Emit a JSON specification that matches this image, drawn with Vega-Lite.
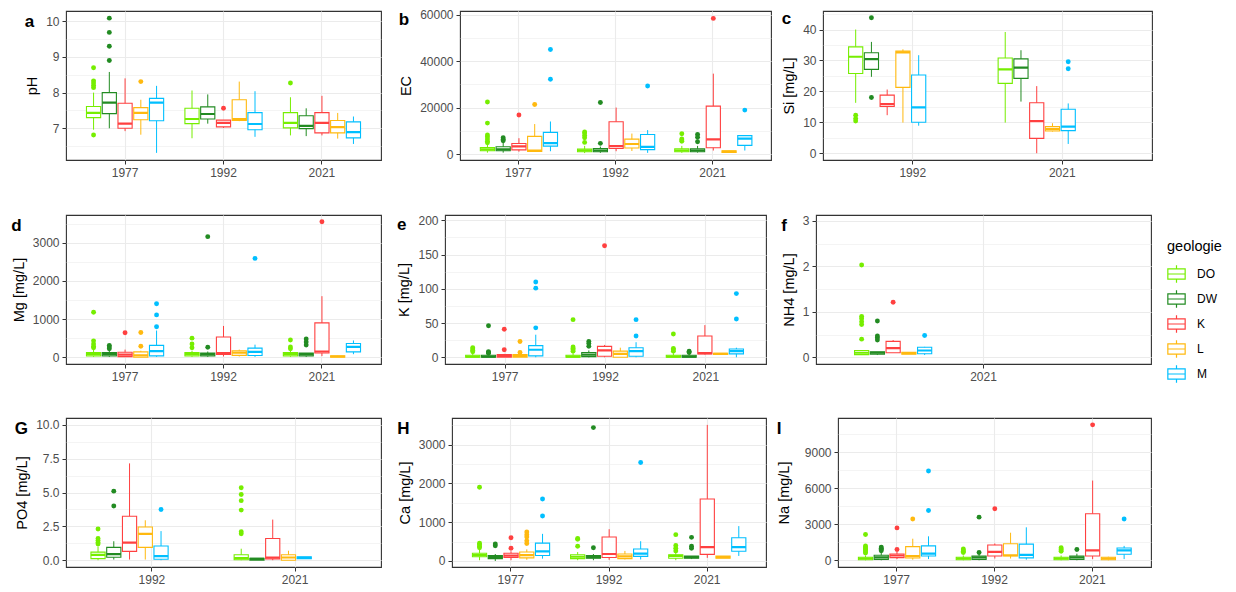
{
"$schema": "https://vega.github.io/schema/vega-lite/v6.json",
"padding": {"left": 10, "top": 7, "right": 0, "bottom": 0},
"background": "white",
"datasets": {
"boxes": [
{"var":"pH","year":"1977","geo":"DO","lo":6.96,"q1":7.30,"med":7.43,"q3":7.61,"hi":8.0},
{"var":"pH","year":"1977","geo":"DW","lo":7.0,"q1":7.41,"med":7.72,"q3":8.0,"hi":8.58},
{"var":"pH","year":"1977","geo":"K","lo":6.92,"q1":7.0,"med":7.13,"q3":7.70,"hi":8.4},
{"var":"pH","year":"1977","geo":"L","lo":6.82,"q1":7.24,"med":7.43,"q3":7.58,"hi":7.8},
{"var":"pH","year":"1977","geo":"M","lo":6.31,"q1":7.21,"med":7.72,"q3":7.84,"hi":8.19},
{"var":"pH","year":"1992","geo":"DO","lo":6.72,"q1":7.13,"med":7.26,"q3":7.56,"hi":8.06},
{"var":"pH","year":"1992","geo":"DW","lo":7.13,"q1":7.26,"med":7.40,"q3":7.60,"hi":7.95},
{"var":"pH","year":"1992","geo":"K","lo":7.01,"q1":7.04,"med":7.15,"q3":7.23,"hi":7.23},
{"var":"pH","year":"1992","geo":"L","lo":7.2,"q1":7.22,"med":7.26,"q3":7.80,"hi":8.31},
{"var":"pH","year":"1992","geo":"M","lo":6.76,"q1":6.96,"med":7.12,"q3":7.44,"hi":8.04},
{"var":"pH","year":"2021","geo":"DO","lo":6.8,"q1":7.01,"med":7.15,"q3":7.44,"hi":7.87},
{"var":"pH","year":"2021","geo":"DW","lo":6.78,"q1":6.99,"med":7.07,"q3":7.35,"hi":7.56},
{"var":"pH","year":"2021","geo":"K","lo":6.8,"q1":6.87,"med":7.15,"q3":7.44,"hi":7.91},
{"var":"pH","year":"2021","geo":"L","lo":6.71,"q1":6.87,"med":7.03,"q3":7.22,"hi":7.43},
{"var":"pH","year":"2021","geo":"M","lo":6.56,"q1":6.73,"med":6.89,"q3":7.18,"hi":7.33},
{"var":"EC","year":"1977","geo":"DO","lo":600,"q1":1400,"med":2000,"q3":2800,"hi":4200},
{"var":"EC","year":"1977","geo":"DW","lo":600,"q1":1400,"med":2000,"q3":3100,"hi":5000},
{"var":"EC","year":"1977","geo":"K","lo":1000,"q1":1800,"med":3300,"q3":4500,"hi":6800},
{"var":"EC","year":"1977","geo":"L","lo":1000,"q1":1100,"med":1500,"q3":7600,"hi":12900},
{"var":"EC","year":"1977","geo":"M","lo":1200,"q1":3400,"med":4700,"q3":9300,"hi":14000},
{"var":"EC","year":"1992","geo":"DO","lo":400,"q1":1000,"med":1500,"q3":2100,"hi":3500},
{"var":"EC","year":"1992","geo":"DW","lo":500,"q1":1000,"med":1500,"q3":2300,"hi":3200},
{"var":"EC","year":"1992","geo":"K","lo":1200,"q1":2400,"med":3400,"q3":13900,"hi":20000},
{"var":"EC","year":"1992","geo":"L","lo":1300,"q1":2600,"med":4300,"q3":6400,"hi":8800},
{"var":"EC","year":"1992","geo":"M","lo":500,"q1":1900,"med":3100,"q3":8400,"hi":10300},
{"var":"EC","year":"2021","geo":"DO","lo":500,"q1":1000,"med":1500,"q3":2200,"hi":3500},
{"var":"EC","year":"2021","geo":"DW","lo":600,"q1":1000,"med":1500,"q3":2200,"hi":3500},
{"var":"EC","year":"2021","geo":"K","lo":1500,"q1":2700,"med":6300,"q3":20600,"hi":34600},
{"var":"EC","year":"2021","geo":"L","lo":500,"q1":700,"med":1000,"q3":1400,"hi":1500},
{"var":"EC","year":"2021","geo":"M","lo":1500,"q1":3700,"med":6600,"q3":7900,"hi":8000},
{"var":"Si","year":"1992","geo":"DO","lo":16.3,"q1":25.8,"med":31.2,"q3":34.4,"hi":40.0},
{"var":"Si","year":"1992","geo":"DW","lo":24.7,"q1":27.1,"med":30.4,"q3":32.5,"hi":36.0},
{"var":"Si","year":"1992","geo":"K","lo":12.3,"q1":15.1,"med":15.9,"q3":18.8,"hi":20.6},
{"var":"Si","year":"1992","geo":"L","lo":9.9,"q1":21.3,"med":32.6,"q3":33.0,"hi":33.6},
{"var":"Si","year":"1992","geo":"M","lo":8.9,"q1":10.0,"med":14.8,"q3":25.3,"hi":31.7},
{"var":"Si","year":"2021","geo":"DO","lo":9.9,"q1":22.6,"med":27.1,"q3":30.8,"hi":39.2},
{"var":"Si","year":"2021","geo":"DW","lo":16.7,"q1":24.2,"med":27.7,"q3":30.5,"hi":33.3},
{"var":"Si","year":"2021","geo":"K","lo":0,"q1":4.8,"med":10.4,"q3":16.3,"hi":21.7},
{"var":"Si","year":"2021","geo":"L","lo":7.0,"q1":7.2,"med":7.8,"q3":8.6,"hi":9.7},
{"var":"Si","year":"2021","geo":"M","lo":3.0,"q1":7.3,"med":8.6,"q3":14.2,"hi":16.1},
{"var":"Mg","year":"1977","geo":"DO","lo":10,"q1":35,"med":90,"q3":122,"hi":200},
{"var":"Mg","year":"1977","geo":"DW","lo":10,"q1":35,"med":90,"q3":122,"hi":170},
{"var":"Mg","year":"1977","geo":"K","lo":5,"q1":17,"med":70,"q3":130,"hi":200},
{"var":"Mg","year":"1977","geo":"L","lo":0,"q1":0,"med":50,"q3":140,"hi":170},
{"var":"Mg","year":"1977","geo":"M","lo":10,"q1":35,"med":160,"q3":310,"hi":700},
{"var":"Mg","year":"1992","geo":"DO","lo":10,"q1":35,"med":90,"q3":120,"hi":170},
{"var":"Mg","year":"1992","geo":"DW","lo":10,"q1":35,"med":80,"q3":110,"hi":150},
{"var":"Mg","year":"1992","geo":"K","lo":20,"q1":70,"med":110,"q3":530,"hi":820},
{"var":"Mg","year":"1992","geo":"L","lo":20,"q1":50,"med":120,"q3":170,"hi":200},
{"var":"Mg","year":"1992","geo":"M","lo":10,"q1":45,"med":140,"q3":240,"hi":330},
{"var":"Mg","year":"2021","geo":"DO","lo":10,"q1":35,"med":90,"q3":120,"hi":200},
{"var":"Mg","year":"2021","geo":"DW","lo":10,"q1":35,"med":80,"q3":110,"hi":110},
{"var":"Mg","year":"2021","geo":"K","lo":30,"q1":110,"med":150,"q3":900,"hi":1600},
{"var":"Mg","year":"2021","geo":"L","lo":0,"q1":0,"med":20,"q3":35,"hi":40},
{"var":"Mg","year":"2021","geo":"M","lo":80,"q1":140,"med":270,"q3":360,"hi":440},
{"var":"K","year":"1977","geo":"DO","lo":0,"q1":0,"med":1,"q3":3,"hi":6},
{"var":"K","year":"1977","geo":"DW","lo":0,"q1":0,"med":1,"q3":3,"hi":5},
{"var":"K","year":"1977","geo":"K","lo":0,"q1":0,"med":2,"q3":4,"hi":5},
{"var":"K","year":"1977","geo":"L","lo":0,"q1":0,"med":2,"q3":4,"hi":6},
{"var":"K","year":"1977","geo":"M","lo":0,"q1":2,"med":11,"q3":17,"hi":33},
{"var":"K","year":"1992","geo":"DO","lo":0,"q1":0,"med":1,"q3":3,"hi":6},
{"var":"K","year":"1992","geo":"DW","lo":0,"q1":1,"med":4,"q3":7,"hi":10},
{"var":"K","year":"1992","geo":"K","lo":0,"q1":1.5,"med":10,"q3":16,"hi":18},
{"var":"K","year":"1992","geo":"L","lo":0,"q1":0,"med":5,"q3":9,"hi":14},
{"var":"K","year":"1992","geo":"M","lo":0,"q1":1.5,"med":9,"q3":14,"hi":22},
{"var":"K","year":"2021","geo":"DO","lo":0,"q1":0,"med":1,"q3":3,"hi":6},
{"var":"K","year":"2021","geo":"DW","lo":0,"q1":0,"med":1,"q3":3,"hi":5},
{"var":"K","year":"2021","geo":"K","lo":4,"q1":5,"med":6,"q3":31,"hi":47},
{"var":"K","year":"2021","geo":"L","lo":4,"q1":4,"med":5,"q3":6,"hi":6},
{"var":"K","year":"2021","geo":"M","lo":0,"q1":5,"med":9,"q3":12,"hi":14},
{"var":"NH4","year":"2021","geo":"DO","lo":0.05,"q1":0.06,"med":0.1,"q3":0.15,"hi":0.16},
{"var":"NH4","year":"2021","geo":"DW","lo":0.05,"q1":0.07,"med":0.1,"q3":0.12,"hi":0.12},
{"var":"NH4","year":"2021","geo":"K","lo":0.1,"q1":0.1,"med":0.2,"q3":0.35,"hi":0.38},
{"var":"NH4","year":"2021","geo":"L","lo":0.07,"q1":0.07,"med":0.09,"q3":0.11,"hi":0.11},
{"var":"NH4","year":"2021","geo":"M","lo":0.05,"q1":0.08,"med":0.15,"q3":0.22,"hi":0.23},
{"var":"PO4","year":"1992","geo":"DO","lo":0,"q1":0.12,"med":0.4,"q3":0.6,"hi":1.0},
{"var":"PO4","year":"1992","geo":"DW","lo":0.05,"q1":0.22,"med":0.45,"q3":0.95,"hi":1.4},
{"var":"PO4","year":"1992","geo":"K","lo":0.05,"q1":0.65,"med":1.3,"q3":3.25,"hi":7.15},
{"var":"PO4","year":"1992","geo":"L","lo":0.05,"q1":0.95,"med":1.95,"q3":2.45,"hi":2.95},
{"var":"PO4","year":"1992","geo":"M","lo":0,"q1":0.07,"med":0.3,"q3":1.05,"hi":2.15},
{"var":"PO4","year":"2021","geo":"DO","lo":0,"q1":0.03,"med":0.15,"q3":0.4,"hi":0.85},
{"var":"PO4","year":"2021","geo":"DW","lo":0,"q1":0.0,"med":0.1,"q3":0.15,"hi":0.15},
{"var":"PO4","year":"2021","geo":"K","lo":0,"q1":0.1,"med":0.2,"q3":1.6,"hi":3.0},
{"var":"PO4","year":"2021","geo":"L","lo":0,"q1":0,"med":0.2,"q3":0.4,"hi":0.7},
{"var":"PO4","year":"2021","geo":"M","lo":0.12,"q1":0.12,"med":0.18,"q3":0.25,"hi":0.25},
{"var":"Ca","year":"1977","geo":"DO","lo":20,"q1":110,"med":150,"q3":200,"hi":300},
{"var":"Ca","year":"1977","geo":"DW","lo":0,"q1":60,"med":100,"q3":140,"hi":180},
{"var":"Ca","year":"1977","geo":"K","lo":20,"q1":90,"med":140,"q3":200,"hi":250},
{"var":"Ca","year":"1977","geo":"L","lo":30,"q1":80,"med":150,"q3":230,"hi":300},
{"var":"Ca","year":"1977","geo":"M","lo":60,"q1":140,"med":250,"q3":460,"hi":700},
{"var":"Ca","year":"1992","geo":"DO","lo":20,"q1":60,"med":110,"q3":160,"hi":230},
{"var":"Ca","year":"1992","geo":"DW","lo":20,"q1":70,"med":100,"q3":140,"hi":180},
{"var":"Ca","year":"1992","geo":"K","lo":30,"q1":90,"med":180,"q3":620,"hi":820},
{"var":"Ca","year":"1992","geo":"L","lo":40,"q1":60,"med":120,"q3":180,"hi":260},
{"var":"Ca","year":"1992","geo":"M","lo":40,"q1":120,"med":190,"q3":310,"hi":510},
{"var":"Ca","year":"2021","geo":"DO","lo":20,"q1":70,"med":130,"q3":160,"hi":230},
{"var":"Ca","year":"2021","geo":"DW","lo":50,"q1":70,"med":100,"q3":130,"hi":130},
{"var":"Ca","year":"2021","geo":"K","lo":80,"q1":170,"med":360,"q3":1600,"hi":3510},
{"var":"Ca","year":"2021","geo":"L","lo":70,"q1":70,"med":100,"q3":130,"hi":130},
{"var":"Ca","year":"2021","geo":"M","lo":130,"q1":250,"med":360,"q3":600,"hi":900},
{"var":"Na","year":"1977","geo":"DO","lo":0,"q1":50,"med":150,"q3":250,"hi":400},
{"var":"Na","year":"1977","geo":"DW","lo":0,"q1":80,"med":250,"q3":420,"hi":700},
{"var":"Na","year":"1977","geo":"K","lo":100,"q1":220,"med":400,"q3":530,"hi":700},
{"var":"Na","year":"1977","geo":"L","lo":50,"q1":190,"med":350,"q3":1140,"hi":1800},
{"var":"Na","year":"1977","geo":"M","lo":100,"q1":360,"med":550,"q3":1200,"hi":2000},
{"var":"Na","year":"1992","geo":"DO","lo":0,"q1":50,"med":150,"q3":250,"hi":400},
{"var":"Na","year":"1992","geo":"DW","lo":0,"q1":80,"med":250,"q3":360,"hi":550},
{"var":"Na","year":"1992","geo":"K","lo":150,"q1":360,"med":700,"q3":1270,"hi":1400},
{"var":"Na","year":"1992","geo":"L","lo":150,"q1":360,"med":420,"q3":1380,"hi":2300},
{"var":"Na","year":"1992","geo":"M","lo":50,"q1":200,"med":450,"q3":1350,"hi":2750},
{"var":"Na","year":"2021","geo":"DO","lo":0,"q1":50,"med":150,"q3":250,"hi":400},
{"var":"Na","year":"2021","geo":"DW","lo":0,"q1":80,"med":250,"q3":360,"hi":550},
{"var":"Na","year":"2021","geo":"K","lo":100,"q1":360,"med":830,"q3":3880,"hi":6650},
{"var":"Na","year":"2021","geo":"L","lo":0,"q1":50,"med":150,"q3":250,"hi":300},
{"var":"Na","year":"2021","geo":"M","lo":100,"q1":500,"med":830,"q3":1020,"hi":1200}
],
"outliers": [
{"var":"pH","year":"1977","geo":"DO","v":8.7},{"var":"pH","year":"1977","geo":"DO","v":8.33},{"var":"pH","year":"1977","geo":"DO","v":8.27},{"var":"pH","year":"1977","geo":"DO","v":8.2},{"var":"pH","year":"1977","geo":"DO","v":8.14},{"var":"pH","year":"1977","geo":"DO","v":6.81},
{"var":"pH","year":"1977","geo":"DW","v":10.09},{"var":"pH","year":"1977","geo":"DW","v":9.69},{"var":"pH","year":"1977","geo":"DW","v":9.3},{"var":"pH","year":"1977","geo":"DW","v":8.9},
{"var":"pH","year":"1977","geo":"L","v":8.31},{"var":"pH","year":"1992","geo":"K","v":7.56},{"var":"pH","year":"2021","geo":"DO","v":8.27},
{"var":"EC","year":"1977","geo":"DO","v":22400},{"var":"EC","year":"1977","geo":"DO","v":13300},{"var":"EC","year":"1977","geo":"DO","v":8200},{"var":"EC","year":"1977","geo":"DO","v":7400},{"var":"EC","year":"1977","geo":"DO","v":6500},{"var":"EC","year":"1977","geo":"DO","v":5500},{"var":"EC","year":"1977","geo":"DO","v":4800},
{"var":"EC","year":"1977","geo":"DW","v":7000},{"var":"EC","year":"1977","geo":"DW","v":6300},{"var":"EC","year":"1977","geo":"DW","v":5700},
{"var":"EC","year":"1977","geo":"K","v":16800},{"var":"EC","year":"1977","geo":"L","v":21300},{"var":"EC","year":"1977","geo":"M","v":45000},{"var":"EC","year":"1977","geo":"M","v":32200},
{"var":"EC","year":"1992","geo":"DO","v":9500},{"var":"EC","year":"1992","geo":"DO","v":9000},{"var":"EC","year":"1992","geo":"DO","v":8000},{"var":"EC","year":"1992","geo":"DO","v":7000},{"var":"EC","year":"1992","geo":"DO","v":5000},
{"var":"EC","year":"1992","geo":"DW","v":22200},{"var":"EC","year":"1992","geo":"DW","v":4600},{"var":"EC","year":"1992","geo":"M","v":29300},
{"var":"EC","year":"2021","geo":"DO","v":8700},{"var":"EC","year":"2021","geo":"DO","v":6500},{"var":"EC","year":"2021","geo":"DO","v":6000},{"var":"EC","year":"2021","geo":"DO","v":5500},
{"var":"EC","year":"2021","geo":"DW","v":8400},{"var":"EC","year":"2021","geo":"DW","v":7200},{"var":"EC","year":"2021","geo":"DW","v":5300},
{"var":"EC","year":"2021","geo":"K","v":58400},{"var":"EC","year":"2021","geo":"M","v":18900},
{"var":"Si","year":"1992","geo":"DO","v":12.3},{"var":"Si","year":"1992","geo":"DO","v":11.2},{"var":"Si","year":"1992","geo":"DO","v":10.4},
{"var":"Si","year":"1992","geo":"DW","v":43.8},{"var":"Si","year":"1992","geo":"DW","v":18.0},
{"var":"Si","year":"2021","geo":"M","v":29.6},{"var":"Si","year":"2021","geo":"M","v":27.3},
{"var":"Mg","year":"1977","geo":"DO","v":1180},{"var":"Mg","year":"1977","geo":"DO","v":430},{"var":"Mg","year":"1977","geo":"DO","v":350},{"var":"Mg","year":"1977","geo":"DO","v":280},{"var":"Mg","year":"1977","geo":"DO","v":250},
{"var":"Mg","year":"1977","geo":"DW","v":310},{"var":"Mg","year":"1977","geo":"DW","v":270},{"var":"Mg","year":"1977","geo":"DW","v":220},
{"var":"Mg","year":"1977","geo":"K","v":640},{"var":"Mg","year":"1977","geo":"L","v":650},{"var":"Mg","year":"1977","geo":"L","v":290},
{"var":"Mg","year":"1977","geo":"M","v":1400},{"var":"Mg","year":"1977","geo":"M","v":1110},{"var":"Mg","year":"1977","geo":"M","v":800},
{"var":"Mg","year":"1992","geo":"DO","v":500},{"var":"Mg","year":"1992","geo":"DO","v":350},{"var":"Mg","year":"1992","geo":"DO","v":250},
{"var":"Mg","year":"1992","geo":"DW","v":3160},{"var":"Mg","year":"1992","geo":"DW","v":260},{"var":"Mg","year":"1992","geo":"M","v":2590},
{"var":"Mg","year":"2021","geo":"DO","v":450},{"var":"Mg","year":"2021","geo":"DO","v":270},{"var":"Mg","year":"2021","geo":"DO","v":220},
{"var":"Mg","year":"2021","geo":"DW","v":480},{"var":"Mg","year":"2021","geo":"DW","v":400},{"var":"Mg","year":"2021","geo":"DW","v":320},
{"var":"Mg","year":"2021","geo":"K","v":3550},
{"var":"K","year":"1977","geo":"DO","v":14},{"var":"K","year":"1977","geo":"DO","v":12},{"var":"K","year":"1977","geo":"DO","v":10},{"var":"K","year":"1977","geo":"DO","v":8},
{"var":"K","year":"1977","geo":"DW","v":46},{"var":"K","year":"1977","geo":"DW","v":8},{"var":"K","year":"1977","geo":"DW","v":7},{"var":"K","year":"1977","geo":"DW","v":6},
{"var":"K","year":"1977","geo":"K","v":41},{"var":"K","year":"1977","geo":"K","v":11},{"var":"K","year":"1977","geo":"L","v":23},{"var":"K","year":"1977","geo":"L","v":7},
{"var":"K","year":"1977","geo":"M","v":110},{"var":"K","year":"1977","geo":"M","v":101},{"var":"K","year":"1977","geo":"M","v":43},
{"var":"K","year":"1992","geo":"DO","v":55},{"var":"K","year":"1992","geo":"DO","v":15},{"var":"K","year":"1992","geo":"DO","v":13},{"var":"K","year":"1992","geo":"DO","v":11},{"var":"K","year":"1992","geo":"DO","v":9},
{"var":"K","year":"1992","geo":"DW","v":23},{"var":"K","year":"1992","geo":"DW","v":20},{"var":"K","year":"1992","geo":"DW","v":16},
{"var":"K","year":"1992","geo":"K","v":163},{"var":"K","year":"1992","geo":"M","v":55},{"var":"K","year":"1992","geo":"M","v":31},
{"var":"K","year":"2021","geo":"DO","v":34},{"var":"K","year":"2021","geo":"DO","v":13},{"var":"K","year":"2021","geo":"DO","v":11},{"var":"K","year":"2021","geo":"DO","v":9},
{"var":"K","year":"2021","geo":"DW","v":9},{"var":"K","year":"2021","geo":"DW","v":7},
{"var":"K","year":"2021","geo":"M","v":93},{"var":"K","year":"2021","geo":"M","v":56},
{"var":"NH4","year":"2021","geo":"DO","v":2.03},{"var":"NH4","year":"2021","geo":"DO","v":0.9},{"var":"NH4","year":"2021","geo":"DO","v":0.85},{"var":"NH4","year":"2021","geo":"DO","v":0.78},{"var":"NH4","year":"2021","geo":"DO","v":0.72},{"var":"NH4","year":"2021","geo":"DO","v":0.4},
{"var":"NH4","year":"2021","geo":"DW","v":0.8},{"var":"NH4","year":"2021","geo":"DW","v":0.47},{"var":"NH4","year":"2021","geo":"DW","v":0.43},{"var":"NH4","year":"2021","geo":"DW","v":0.38},
{"var":"NH4","year":"2021","geo":"K","v":1.21},{"var":"NH4","year":"2021","geo":"M","v":0.48},
{"var":"PO4","year":"1992","geo":"DO","v":2.3},{"var":"PO4","year":"1992","geo":"DO","v":1.6},{"var":"PO4","year":"1992","geo":"DO","v":1.45},{"var":"PO4","year":"1992","geo":"DO","v":1.3},{"var":"PO4","year":"1992","geo":"DO","v":1.2},
{"var":"PO4","year":"1992","geo":"DW","v":5.1},{"var":"PO4","year":"1992","geo":"DW","v":4.0},{"var":"PO4","year":"1992","geo":"M","v":3.75},
{"var":"PO4","year":"2021","geo":"DO","v":5.35},{"var":"PO4","year":"2021","geo":"DO","v":4.85},{"var":"PO4","year":"2021","geo":"DO","v":4.4},{"var":"PO4","year":"2021","geo":"DO","v":3.7},{"var":"PO4","year":"2021","geo":"DO","v":2.1},{"var":"PO4","year":"2021","geo":"DO","v":1.95},
{"var":"Ca","year":"1977","geo":"DO","v":1900},{"var":"Ca","year":"1977","geo":"DO","v":460},{"var":"Ca","year":"1977","geo":"DO","v":420},{"var":"Ca","year":"1977","geo":"DO","v":380},{"var":"Ca","year":"1977","geo":"DO","v":340},
{"var":"Ca","year":"1977","geo":"DW","v":440},{"var":"Ca","year":"1977","geo":"DW","v":390},
{"var":"Ca","year":"1977","geo":"K","v":600},{"var":"Ca","year":"1977","geo":"K","v":330},
{"var":"Ca","year":"1977","geo":"L","v":750},{"var":"Ca","year":"1977","geo":"L","v":680},{"var":"Ca","year":"1977","geo":"L","v":620},{"var":"Ca","year":"1977","geo":"L","v":520},{"var":"Ca","year":"1977","geo":"L","v":450},
{"var":"Ca","year":"1977","geo":"M","v":1600},{"var":"Ca","year":"1977","geo":"M","v":1160},
{"var":"Ca","year":"1992","geo":"DO","v":580},{"var":"Ca","year":"1992","geo":"DO","v":560},{"var":"Ca","year":"1992","geo":"DO","v":380},
{"var":"Ca","year":"1992","geo":"DW","v":3440},{"var":"Ca","year":"1992","geo":"DW","v":340},{"var":"Ca","year":"1992","geo":"M","v":2540},
{"var":"Ca","year":"2021","geo":"DO","v":680},{"var":"Ca","year":"2021","geo":"DO","v":400},{"var":"Ca","year":"2021","geo":"DO","v":330},{"var":"Ca","year":"2021","geo":"DO","v":260},
{"var":"Ca","year":"2021","geo":"DW","v":610},{"var":"Ca","year":"2021","geo":"DW","v":380},{"var":"Ca","year":"2021","geo":"DW","v":330},
{"var":"Na","year":"1977","geo":"DO","v":2150},{"var":"Na","year":"1977","geo":"DO","v":1200},{"var":"Na","year":"1977","geo":"DO","v":1100},{"var":"Na","year":"1977","geo":"DO","v":1000},{"var":"Na","year":"1977","geo":"DO","v":900},{"var":"Na","year":"1977","geo":"DO","v":800},{"var":"Na","year":"1977","geo":"DO","v":700},{"var":"Na","year":"1977","geo":"DO","v":600},
{"var":"Na","year":"1977","geo":"DW","v":1100},{"var":"Na","year":"1977","geo":"DW","v":1000},{"var":"Na","year":"1977","geo":"DW","v":900},{"var":"Na","year":"1977","geo":"DW","v":800},
{"var":"Na","year":"1977","geo":"K","v":2700},{"var":"Na","year":"1977","geo":"K","v":900},{"var":"Na","year":"1977","geo":"L","v":3450},
{"var":"Na","year":"1977","geo":"M","v":7450},{"var":"Na","year":"1977","geo":"M","v":4150},
{"var":"Na","year":"1992","geo":"DO","v":950},{"var":"Na","year":"1992","geo":"DO","v":850},{"var":"Na","year":"1992","geo":"DO","v":750},{"var":"Na","year":"1992","geo":"DO","v":650},
{"var":"Na","year":"1992","geo":"DW","v":3600},{"var":"Na","year":"1992","geo":"DW","v":650},{"var":"Na","year":"1992","geo":"K","v":4300},
{"var":"Na","year":"2021","geo":"DO","v":1050},{"var":"Na","year":"2021","geo":"DO","v":950},{"var":"Na","year":"2021","geo":"DO","v":850},{"var":"Na","year":"2021","geo":"DO","v":750},
{"var":"Na","year":"2021","geo":"DW","v":900},{"var":"Na","year":"2021","geo":"K","v":11300},{"var":"Na","year":"2021","geo":"M","v":3450}
]
},
"concat": [
{"hconcat": [
{"width": 315, "height": 149,
 "title": {"text": "a", "anchor": "start", "frame": "bounds", "fontSize": 17, "fontWeight": "bold", "offset": -20, "baseline": "top", "color": "#000000"},
 "encoding": {
  "x": {"field": "year", "type": "nominal", "title": null, "scale": {"paddingInner": 0, "paddingOuter": 0.1}, "axis": {"labelAngle": 0, "grid": true, "bandPosition": 0.5, "gridWidth": 1.1}},
  "xOffset": {"field": "geo", "type": "nominal", "scale": {"domain": ["DO","DW","K","L","M"], "paddingInner": 0.1, "paddingOuter": 0.675}}
 },
 "layer": [
  {"data": {"name": "boxes"}, "transform": [{"filter": "datum.var == 'pH'"}], "mark": {"type": "bar", "filled": false, "fill": "white", "strokeWidth": 1.1}, "encoding": {"y": {"field": "q1", "type": "quantitative", "title": "pH", "scale": {"domain": [6.11, 10.29], "nice": false, "zero": false}, "axis": {"values": [6.5,7,7.5,8,8.5,9,9.5,10], "tickCount": 40, "format": ".0f", "labelOverlap": false, "labelFlush": false, "grid": true, "labelOpacity": {"condition": {"test": "datum.value % 1 != 0", "value": 0}, "value": 1}, "gridWidth": {"condition": {"test": "datum.value % 1 != 0", "value": 0.55}, "value": 1.1}, "tickOpacity": {"condition": {"test": "datum.value % 1 != 0", "value": 0}, "value": 1}}}, "y2": {"field": "q3"},
    "color": {"field": "geo", "type": "nominal", "scale": {"domain": ["DO","DW","K","L","M"], "range": ["#76EE00","#228B22","#FF4040","#FFB90F","#00BFFF"]}, "legend": {"title": "geologie", "orient": "none", "legendX": 1101, "legendY": 229, "symbolType": "M-1,-0.6H1V0.6H-1Z M-1,0H1 M0,-0.6V-1 M0,0.6V1", "symbolSize": 300, "symbolStrokeWidth": 1.2, "symbolFillColor": "white", "labelFontSize": 12, "labelColor": "#000000", "titleFontSize": 14.5, "titleFontWeight": "normal", "titleColor": "#000000", "titlePadding": 10, "rowPadding": 2, "labelOffset": 11}}}},
  {"data": {"name": "boxes"}, "transform": [{"filter": "datum.var == 'pH'"}], "mark": {"type": "bar", "filled": false, "strokeWidth": 2.2}, "encoding": {"y": {"field": "med", "type": "quantitative", "title": "pH"}, "y2": {"field": "med"}, "color": {"field": "geo", "type": "nominal", "scale": {"domain": ["DO","DW","K","L","M"], "range": ["#76EE00","#228B22","#FF4040","#FFB90F","#00BFFF"]}}}},
  {"data": {"name": "boxes"}, "transform": [{"filter": "datum.var == 'pH'"}], "mark": {"type": "rule", "strokeWidth": 1}, "encoding": {"y": {"field": "lo", "type": "quantitative", "title": "pH"}, "y2": {"field": "q1"}, "color": {"field": "geo", "type": "nominal", "scale": {"domain": ["DO","DW","K","L","M"], "range": ["#76EE00","#228B22","#FF4040","#FFB90F","#00BFFF"]}}}},
  {"data": {"name": "boxes"}, "transform": [{"filter": "datum.var == 'pH'"}], "mark": {"type": "rule", "strokeWidth": 1}, "encoding": {"y": {"field": "q3", "type": "quantitative", "title": "pH"}, "y2": {"field": "hi"}, "color": {"field": "geo", "type": "nominal", "scale": {"domain": ["DO","DW","K","L","M"], "range": ["#76EE00","#228B22","#FF4040","#FFB90F","#00BFFF"]}}}},
  {"data": {"name": "outliers"}, "transform": [{"filter": "datum.var == 'pH'"}], "mark": {"type": "circle", "size": 24, "opacity": 1}, "encoding": {"y": {"field": "v", "type": "quantitative", "title": "pH"}, "fill": {"field": "geo", "type": "nominal", "scale": {"domain": ["DO","DW","K","L","M","_"], "range": ["#76EE00","#228B22","#FF4040","#FFB90F","#00BFFF","#000000"]}, "legend": null}}}
 ]},
{"hconcat": [
{"width": 311, "height": 149,
 "title": {"text": "b", "anchor": "start", "frame": "bounds", "fontSize": 17, "fontWeight": "bold", "offset": -20, "baseline": "top", "color": "#000000"},
 "encoding": {
  "x": {"field": "year", "type": "nominal", "title": null, "scale": {"paddingInner": 0, "paddingOuter": 0.1}, "axis": {"labelAngle": 0, "grid": true, "bandPosition": 0.5, "gridWidth": 1.1}},
  "xOffset": {"field": "geo", "type": "nominal", "scale": {"domain": ["DO","DW","K","L","M"], "paddingInner": 0.1, "paddingOuter": 0.675}}
 },
 "layer": [
  {"data": {"name": "boxes"}, "transform": [{"filter": "datum.var == 'EC'"}], "mark": {"type": "bar", "filled": false, "fill": "white", "strokeWidth": 1.1}, "encoding": {"y": {"field": "q1", "type": "quantitative", "title": "EC", "scale": {"domain": [-2580, 61580], "nice": false, "zero": false}, "axis": {"values": [0,10000,20000,30000,40000,50000,60000], "tickCount": 40, "format": ".0f", "labelOverlap": false, "labelFlush": false, "grid": true, "labelOpacity": {"condition": {"test": "datum.value % 20000 != 0", "value": 0}, "value": 1}, "gridWidth": {"condition": {"test": "datum.value % 20000 != 0", "value": 0.55}, "value": 1.1}, "tickOpacity": {"condition": {"test": "datum.value % 20000 != 0", "value": 0}, "value": 1}}}, "y2": {"field": "q3"}, "color": {"field": "geo", "type": "nominal", "scale": {"domain": ["DO","DW","K","L","M"], "range": ["#76EE00","#228B22","#FF4040","#FFB90F","#00BFFF"]}}}},
  {"data": {"name": "boxes"}, "transform": [{"filter": "datum.var == 'EC'"}], "mark": {"type": "bar", "filled": false, "strokeWidth": 2.2}, "encoding": {"y": {"field": "med", "type": "quantitative", "title": "EC"}, "y2": {"field": "med"}, "color": {"field": "geo", "type": "nominal", "scale": {"domain": ["DO","DW","K","L","M"], "range": ["#76EE00","#228B22","#FF4040","#FFB90F","#00BFFF"]}}}},
  {"data": {"name": "boxes"}, "transform": [{"filter": "datum.var == 'EC'"}], "mark": {"type": "rule", "strokeWidth": 1}, "encoding": {"y": {"field": "lo", "type": "quantitative", "title": "EC"}, "y2": {"field": "q1"}, "color": {"field": "geo", "type": "nominal", "scale": {"domain": ["DO","DW","K","L","M"], "range": ["#76EE00","#228B22","#FF4040","#FFB90F","#00BFFF"]}}}},
  {"data": {"name": "boxes"}, "transform": [{"filter": "datum.var == 'EC'"}], "mark": {"type": "rule", "strokeWidth": 1}, "encoding": {"y": {"field": "q3", "type": "quantitative", "title": "EC"}, "y2": {"field": "hi"}, "color": {"field": "geo", "type": "nominal", "scale": {"domain": ["DO","DW","K","L","M"], "range": ["#76EE00","#228B22","#FF4040","#FFB90F","#00BFFF"]}}}},
  {"data": {"name": "outliers"}, "transform": [{"filter": "datum.var == 'EC'"}], "mark": {"type": "circle", "size": 24, "opacity": 1}, "encoding": {"y": {"field": "v", "type": "quantitative", "title": "EC"}, "fill": {"field": "geo", "type": "nominal", "scale": {"domain": ["DO","DW","K","L","M","_"], "range": ["#76EE00","#228B22","#FF4040","#FFB90F","#00BFFF","#000000"]}, "legend": null}}}
 ]},
{"width": 329, "height": 149,
 "title": {"text": "c", "anchor": "start", "frame": "bounds", "fontSize": 17, "fontWeight": "bold", "offset": -20, "baseline": "top", "color": "#000000"},
 "encoding": {
  "x": {"field": "year", "type": "nominal", "title": null, "scale": {"paddingInner": 0, "paddingOuter": 0.1}, "axis": {"labelAngle": 0, "grid": true, "bandPosition": 0.5, "gridWidth": 1.1}},
  "xOffset": {"field": "geo", "type": "nominal", "scale": {"domain": ["DO","DW","K","L","M"], "paddingInner": 0.1, "paddingOuter": 0.675}}
 },
 "layer": [
  {"data": {"name": "boxes"}, "transform": [{"filter": "datum.var == 'Si'"}], "mark": {"type": "bar", "filled": false, "fill": "white", "strokeWidth": 1.1}, "encoding": {"y": {"field": "q1", "type": "quantitative", "title": "Si [mg/L]", "scale": {"domain": [-2.19, 45.99], "nice": false, "zero": false}, "axis": {"values": [0,5,10,15,20,25,30,35,40,45], "tickCount": 40, "format": ".0f", "labelOverlap": false, "labelFlush": false, "grid": true, "labelOpacity": {"condition": {"test": "datum.value % 10 != 0", "value": 0}, "value": 1}, "gridWidth": {"condition": {"test": "datum.value % 10 != 0", "value": 0.55}, "value": 1.1}, "tickOpacity": {"condition": {"test": "datum.value % 10 != 0", "value": 0}, "value": 1}}}, "y2": {"field": "q3"}, "color": {"field": "geo", "type": "nominal", "scale": {"domain": ["DO","DW","K","L","M"], "range": ["#76EE00","#228B22","#FF4040","#FFB90F","#00BFFF"]}}}},
  {"data": {"name": "boxes"}, "transform": [{"filter": "datum.var == 'Si'"}], "mark": {"type": "bar", "filled": false, "strokeWidth": 2.2}, "encoding": {"y": {"field": "med", "type": "quantitative", "title": "Si [mg/L]"}, "y2": {"field": "med"}, "color": {"field": "geo", "type": "nominal", "scale": {"domain": ["DO","DW","K","L","M"], "range": ["#76EE00","#228B22","#FF4040","#FFB90F","#00BFFF"]}}}},
  {"data": {"name": "boxes"}, "transform": [{"filter": "datum.var == 'Si'"}], "mark": {"type": "rule", "strokeWidth": 1}, "encoding": {"y": {"field": "lo", "type": "quantitative", "title": "Si [mg/L]"}, "y2": {"field": "q1"}, "color": {"field": "geo", "type": "nominal", "scale": {"domain": ["DO","DW","K","L","M"], "range": ["#76EE00","#228B22","#FF4040","#FFB90F","#00BFFF"]}}}},
  {"data": {"name": "boxes"}, "transform": [{"filter": "datum.var == 'Si'"}], "mark": {"type": "rule", "strokeWidth": 1}, "encoding": {"y": {"field": "q3", "type": "quantitative", "title": "Si [mg/L]"}, "y2": {"field": "hi"}, "color": {"field": "geo", "type": "nominal", "scale": {"domain": ["DO","DW","K","L","M"], "range": ["#76EE00","#228B22","#FF4040","#FFB90F","#00BFFF"]}}}},
  {"data": {"name": "outliers"}, "transform": [{"filter": "datum.var == 'Si'"}], "mark": {"type": "circle", "size": 24, "opacity": 1}, "encoding": {"y": {"field": "v", "type": "quantitative", "title": "Si [mg/L]"}, "fill": {"field": "geo", "type": "nominal", "scale": {"domain": ["DO","DW","K","L","M","_"], "range": ["#76EE00","#228B22","#FF4040","#FFB90F","#00BFFF","#000000"]}, "legend": null}}}
 ]}
], "spacing": 52, "bounds": "flush"}
], "spacing": 79, "bounds": "flush"},
{"hconcat": [
{"width": 315, "height": 149,
 "title": {"text": "d", "anchor": "start", "frame": "bounds", "fontSize": 17, "fontWeight": "bold", "offset": -20, "baseline": "top", "color": "#000000"},
 "encoding": {
  "x": {"field": "year", "type": "nominal", "title": null, "scale": {"paddingInner": 0, "paddingOuter": 0.1}, "axis": {"labelAngle": 0, "grid": true, "bandPosition": 0.5, "gridWidth": 1.1}},
  "xOffset": {"field": "geo", "type": "nominal", "scale": {"domain": ["DO","DW","K","L","M"], "paddingInner": 0.1, "paddingOuter": 0.675}}
 },
 "layer": [
  {"data": {"name": "boxes"}, "transform": [{"filter": "datum.var == 'Mg'"}], "mark": {"type": "bar", "filled": false, "fill": "white", "strokeWidth": 1.1}, "encoding": {"y": {"field": "q1", "type": "quantitative", "title": "Mg [mg/L]", "scale": {"domain": [-177, 3727], "nice": false, "zero": false}, "axis": {"values": [0,500,1000,1500,2000,2500,3000,3500], "tickCount": 40, "format": ".0f", "labelOverlap": false, "labelFlush": false, "grid": true, "labelOpacity": {"condition": {"test": "datum.value % 1000 != 0", "value": 0}, "value": 1}, "gridWidth": {"condition": {"test": "datum.value % 1000 != 0", "value": 0.55}, "value": 1.1}, "tickOpacity": {"condition": {"test": "datum.value % 1000 != 0", "value": 0}, "value": 1}}}, "y2": {"field": "q3"}, "color": {"field": "geo", "type": "nominal", "scale": {"domain": ["DO","DW","K","L","M"], "range": ["#76EE00","#228B22","#FF4040","#FFB90F","#00BFFF"]}}}},
  {"data": {"name": "boxes"}, "transform": [{"filter": "datum.var == 'Mg'"}], "mark": {"type": "bar", "filled": false, "strokeWidth": 2.2}, "encoding": {"y": {"field": "med", "type": "quantitative", "title": "Mg [mg/L]"}, "y2": {"field": "med"}, "color": {"field": "geo", "type": "nominal", "scale": {"domain": ["DO","DW","K","L","M"], "range": ["#76EE00","#228B22","#FF4040","#FFB90F","#00BFFF"]}}}},
  {"data": {"name": "boxes"}, "transform": [{"filter": "datum.var == 'Mg'"}], "mark": {"type": "rule", "strokeWidth": 1}, "encoding": {"y": {"field": "lo", "type": "quantitative", "title": "Mg [mg/L]"}, "y2": {"field": "q1"}, "color": {"field": "geo", "type": "nominal", "scale": {"domain": ["DO","DW","K","L","M"], "range": ["#76EE00","#228B22","#FF4040","#FFB90F","#00BFFF"]}}}},
  {"data": {"name": "boxes"}, "transform": [{"filter": "datum.var == 'Mg'"}], "mark": {"type": "rule", "strokeWidth": 1}, "encoding": {"y": {"field": "q3", "type": "quantitative", "title": "Mg [mg/L]"}, "y2": {"field": "hi"}, "color": {"field": "geo", "type": "nominal", "scale": {"domain": ["DO","DW","K","L","M"], "range": ["#76EE00","#228B22","#FF4040","#FFB90F","#00BFFF"]}}}},
  {"data": {"name": "outliers"}, "transform": [{"filter": "datum.var == 'Mg'"}], "mark": {"type": "circle", "size": 24, "opacity": 1}, "encoding": {"y": {"field": "v", "type": "quantitative", "title": "Mg [mg/L]"}, "fill": {"field": "geo", "type": "nominal", "scale": {"domain": ["DO","DW","K","L","M","_"], "range": ["#76EE00","#228B22","#FF4040","#FFB90F","#00BFFF","#000000"]}, "legend": null}}}
 ]},
{"hconcat": [
{"width": 321, "height": 149,
 "title": {"text": "e", "anchor": "start", "frame": "bounds", "fontSize": 17, "fontWeight": "bold", "offset": -20, "baseline": "top", "color": "#000000"},
 "encoding": {
  "x": {"field": "year", "type": "nominal", "title": null, "scale": {"paddingInner": 0, "paddingOuter": 0.1}, "axis": {"labelAngle": 0, "grid": true, "bandPosition": 0.5, "gridWidth": 1.1}},
  "xOffset": {"field": "geo", "type": "nominal", "scale": {"domain": ["DO","DW","K","L","M"], "paddingInner": 0.1, "paddingOuter": 0.675}}
 },
 "layer": [
  {"data": {"name": "boxes"}, "transform": [{"filter": "datum.var == 'K'"}], "mark": {"type": "bar", "filled": false, "fill": "white", "strokeWidth": 1.1}, "encoding": {"y": {"field": "q1", "type": "quantitative", "title": "K [mg/L]", "scale": {"domain": [-9.8, 207.8], "nice": false, "zero": false}, "axis": {"values": [0,25,50,75,100,125,150,175,200], "tickCount": 40, "format": ".0f", "labelOverlap": false, "labelFlush": false, "grid": true, "labelOpacity": {"condition": {"test": "datum.value % 50 != 0", "value": 0}, "value": 1}, "gridWidth": {"condition": {"test": "datum.value % 50 != 0", "value": 0.55}, "value": 1.1}, "tickOpacity": {"condition": {"test": "datum.value % 50 != 0", "value": 0}, "value": 1}}}, "y2": {"field": "q3"}, "color": {"field": "geo", "type": "nominal", "scale": {"domain": ["DO","DW","K","L","M"], "range": ["#76EE00","#228B22","#FF4040","#FFB90F","#00BFFF"]}}}},
  {"data": {"name": "boxes"}, "transform": [{"filter": "datum.var == 'K'"}], "mark": {"type": "bar", "filled": false, "strokeWidth": 2.2}, "encoding": {"y": {"field": "med", "type": "quantitative", "title": "K [mg/L]"}, "y2": {"field": "med"}, "color": {"field": "geo", "type": "nominal", "scale": {"domain": ["DO","DW","K","L","M"], "range": ["#76EE00","#228B22","#FF4040","#FFB90F","#00BFFF"]}}}},
  {"data": {"name": "boxes"}, "transform": [{"filter": "datum.var == 'K'"}], "mark": {"type": "rule", "strokeWidth": 1}, "encoding": {"y": {"field": "lo", "type": "quantitative", "title": "K [mg/L]"}, "y2": {"field": "q1"}, "color": {"field": "geo", "type": "nominal", "scale": {"domain": ["DO","DW","K","L","M"], "range": ["#76EE00","#228B22","#FF4040","#FFB90F","#00BFFF"]}}}},
  {"data": {"name": "boxes"}, "transform": [{"filter": "datum.var == 'K'"}], "mark": {"type": "rule", "strokeWidth": 1}, "encoding": {"y": {"field": "q3", "type": "quantitative", "title": "K [mg/L]"}, "y2": {"field": "hi"}, "color": {"field": "geo", "type": "nominal", "scale": {"domain": ["DO","DW","K","L","M"], "range": ["#76EE00","#228B22","#FF4040","#FFB90F","#00BFFF"]}}}},
  {"data": {"name": "outliers"}, "transform": [{"filter": "datum.var == 'K'"}], "mark": {"type": "circle", "size": 24, "opacity": 1}, "encoding": {"y": {"field": "v", "type": "quantitative", "title": "K [mg/L]"}, "fill": {"field": "geo", "type": "nominal", "scale": {"domain": ["DO","DW","K","L","M","_"], "range": ["#76EE00","#228B22","#FF4040","#FFB90F","#00BFFF","#000000"]}, "legend": null}}}
 ]},
{"width": 335, "height": 149,
 "title": {"text": "f", "anchor": "start", "frame": "bounds", "fontSize": 17, "fontWeight": "bold", "offset": -20, "baseline": "top", "color": "#000000"},
 "encoding": {
  "x": {"field": "year", "type": "nominal", "title": null, "scale": {"paddingInner": 0, "paddingOuter": 0.1}, "axis": {"labelAngle": 0, "grid": true, "bandPosition": 0.5, "gridWidth": 1.1}},
  "xOffset": {"field": "geo", "type": "nominal", "scale": {"domain": ["DO","DW","K","L","M"], "paddingInner": 0.1, "paddingOuter": 0.675}}
 },
 "layer": [
  {"data": {"name": "boxes"}, "transform": [{"filter": "datum.var == 'NH4'"}], "mark": {"type": "bar", "filled": false, "fill": "white", "strokeWidth": 1.1}, "encoding": {"y": {"field": "q1", "type": "quantitative", "title": "NH4 [mg/L]", "scale": {"domain": [-0.147, 3.13], "nice": false, "zero": false}, "axis": {"values": [0,0.5,1,1.5,2,2.5,3], "tickCount": 40, "format": ".0f", "labelOverlap": false, "labelFlush": false, "grid": true, "labelOpacity": {"condition": {"test": "datum.value % 1 != 0", "value": 0}, "value": 1}, "gridWidth": {"condition": {"test": "datum.value % 1 != 0", "value": 0.55}, "value": 1.1}, "tickOpacity": {"condition": {"test": "datum.value % 1 != 0", "value": 0}, "value": 1}}}, "y2": {"field": "q3"}, "color": {"field": "geo", "type": "nominal", "scale": {"domain": ["DO","DW","K","L","M"], "range": ["#76EE00","#228B22","#FF4040","#FFB90F","#00BFFF"]}}}},
  {"data": {"name": "boxes"}, "transform": [{"filter": "datum.var == 'NH4'"}], "mark": {"type": "bar", "filled": false, "strokeWidth": 2.2}, "encoding": {"y": {"field": "med", "type": "quantitative", "title": "NH4 [mg/L]"}, "y2": {"field": "med"}, "color": {"field": "geo", "type": "nominal", "scale": {"domain": ["DO","DW","K","L","M"], "range": ["#76EE00","#228B22","#FF4040","#FFB90F","#00BFFF"]}}}},
  {"data": {"name": "boxes"}, "transform": [{"filter": "datum.var == 'NH4'"}], "mark": {"type": "rule", "strokeWidth": 1}, "encoding": {"y": {"field": "lo", "type": "quantitative", "title": "NH4 [mg/L]"}, "y2": {"field": "q1"}, "color": {"field": "geo", "type": "nominal", "scale": {"domain": ["DO","DW","K","L","M"], "range": ["#76EE00","#228B22","#FF4040","#FFB90F","#00BFFF"]}}}},
  {"data": {"name": "boxes"}, "transform": [{"filter": "datum.var == 'NH4'"}], "mark": {"type": "rule", "strokeWidth": 1}, "encoding": {"y": {"field": "q3", "type": "quantitative", "title": "NH4 [mg/L]"}, "y2": {"field": "hi"}, "color": {"field": "geo", "type": "nominal", "scale": {"domain": ["DO","DW","K","L","M"], "range": ["#76EE00","#228B22","#FF4040","#FFB90F","#00BFFF"]}}}},
  {"data": {"name": "outliers"}, "transform": [{"filter": "datum.var == 'NH4'"}], "mark": {"type": "circle", "size": 24, "opacity": 1}, "encoding": {"y": {"field": "v", "type": "quantitative", "title": "NH4 [mg/L]"}, "fill": {"field": "geo", "type": "nominal", "scale": {"domain": ["DO","DW","K","L","M","_"], "range": ["#76EE00","#228B22","#FF4040","#FFB90F","#00BFFF","#000000"]}, "legend": null}}}
 ]}
], "spacing": 50, "bounds": "flush"}
], "spacing": 64, "bounds": "flush"},
{"hconcat": [
{"width": 315, "height": 149,
 "title": {"text": "G", "anchor": "start", "frame": "bounds", "fontSize": 17, "fontWeight": "bold", "offset": -20, "baseline": "top", "color": "#000000"},
 "encoding": {
  "x": {"field": "year", "type": "nominal", "title": null, "scale": {"paddingInner": 0, "paddingOuter": 0.1}, "axis": {"labelAngle": 0, "grid": true, "bandPosition": 0.5, "gridWidth": 1.1}},
  "xOffset": {"field": "geo", "type": "nominal", "scale": {"domain": ["DO","DW","K","L","M"], "paddingInner": 0.1, "paddingOuter": 0.675}}
 },
 "layer": [
  {"data": {"name": "boxes"}, "transform": [{"filter": "datum.var == 'PO4'"}], "mark": {"type": "bar", "filled": false, "fill": "white", "strokeWidth": 1.1}, "encoding": {"y": {"field": "q1", "type": "quantitative", "title": "PO4 [mg/L]", "scale": {"domain": [-0.5, 10.5], "nice": false, "zero": false}, "axis": {"values": [0,1.25,2.5,3.75,5,6.25,7.5,8.75,10], "tickCount": 40, "format": ".1f", "labelOverlap": false, "labelFlush": false, "grid": true, "labelOpacity": {"condition": {"test": "datum.value % 2.5 != 0", "value": 0}, "value": 1}, "gridWidth": {"condition": {"test": "datum.value % 2.5 != 0", "value": 0.55}, "value": 1.1}, "tickOpacity": {"condition": {"test": "datum.value % 2.5 != 0", "value": 0}, "value": 1}}}, "y2": {"field": "q3"}, "color": {"field": "geo", "type": "nominal", "scale": {"domain": ["DO","DW","K","L","M"], "range": ["#76EE00","#228B22","#FF4040","#FFB90F","#00BFFF"]}}}},
  {"data": {"name": "boxes"}, "transform": [{"filter": "datum.var == 'PO4'"}], "mark": {"type": "bar", "filled": false, "strokeWidth": 2.2}, "encoding": {"y": {"field": "med", "type": "quantitative", "title": "PO4 [mg/L]"}, "y2": {"field": "med"}, "color": {"field": "geo", "type": "nominal", "scale": {"domain": ["DO","DW","K","L","M"], "range": ["#76EE00","#228B22","#FF4040","#FFB90F","#00BFFF"]}}}},
  {"data": {"name": "boxes"}, "transform": [{"filter": "datum.var == 'PO4'"}], "mark": {"type": "rule", "strokeWidth": 1}, "encoding": {"y": {"field": "lo", "type": "quantitative", "title": "PO4 [mg/L]"}, "y2": {"field": "q1"}, "color": {"field": "geo", "type": "nominal", "scale": {"domain": ["DO","DW","K","L","M"], "range": ["#76EE00","#228B22","#FF4040","#FFB90F","#00BFFF"]}}}},
  {"data": {"name": "boxes"}, "transform": [{"filter": "datum.var == 'PO4'"}], "mark": {"type": "rule", "strokeWidth": 1}, "encoding": {"y": {"field": "q3", "type": "quantitative", "title": "PO4 [mg/L]"}, "y2": {"field": "hi"}, "color": {"field": "geo", "type": "nominal", "scale": {"domain": ["DO","DW","K","L","M"], "range": ["#76EE00","#228B22","#FF4040","#FFB90F","#00BFFF"]}}}},
  {"data": {"name": "outliers"}, "transform": [{"filter": "datum.var == 'PO4'"}], "mark": {"type": "circle", "size": 24, "opacity": 1}, "encoding": {"y": {"field": "v", "type": "quantitative", "title": "PO4 [mg/L]"}, "fill": {"field": "geo", "type": "nominal", "scale": {"domain": ["DO","DW","K","L","M","_"], "range": ["#76EE00","#228B22","#FF4040","#FFB90F","#00BFFF","#000000"]}, "legend": null}}}
 ]},
{"hconcat": [
{"width": 314, "height": 149,
 "title": {"text": "H", "anchor": "start", "frame": "bounds", "fontSize": 17, "fontWeight": "bold", "offset": -20, "baseline": "top", "color": "#000000"},
 "encoding": {
  "x": {"field": "year", "type": "nominal", "title": null, "scale": {"paddingInner": 0, "paddingOuter": 0.1}, "axis": {"labelAngle": 0, "grid": true, "bandPosition": 0.5, "gridWidth": 1.1}},
  "xOffset": {"field": "geo", "type": "nominal", "scale": {"domain": ["DO","DW","K","L","M"], "paddingInner": 0.1, "paddingOuter": 0.675}}
 },
 "layer": [
  {"data": {"name": "boxes"}, "transform": [{"filter": "datum.var == 'Ca'"}], "mark": {"type": "bar", "filled": false, "fill": "white", "strokeWidth": 1.1}, "encoding": {"y": {"field": "q1", "type": "quantitative", "title": "Ca [mg/L]", "scale": {"domain": [-155, 3688], "nice": false, "zero": false}, "axis": {"values": [0,500,1000,1500,2000,2500,3000,3500], "tickCount": 40, "format": ".0f", "labelOverlap": false, "labelFlush": false, "grid": true, "labelOpacity": {"condition": {"test": "datum.value % 1000 != 0", "value": 0}, "value": 1}, "gridWidth": {"condition": {"test": "datum.value % 1000 != 0", "value": 0.55}, "value": 1.1}, "tickOpacity": {"condition": {"test": "datum.value % 1000 != 0", "value": 0}, "value": 1}}}, "y2": {"field": "q3"}, "color": {"field": "geo", "type": "nominal", "scale": {"domain": ["DO","DW","K","L","M"], "range": ["#76EE00","#228B22","#FF4040","#FFB90F","#00BFFF"]}}}},
  {"data": {"name": "boxes"}, "transform": [{"filter": "datum.var == 'Ca'"}], "mark": {"type": "bar", "filled": false, "strokeWidth": 2.2}, "encoding": {"y": {"field": "med", "type": "quantitative", "title": "Ca [mg/L]"}, "y2": {"field": "med"}, "color": {"field": "geo", "type": "nominal", "scale": {"domain": ["DO","DW","K","L","M"], "range": ["#76EE00","#228B22","#FF4040","#FFB90F","#00BFFF"]}}}},
  {"data": {"name": "boxes"}, "transform": [{"filter": "datum.var == 'Ca'"}], "mark": {"type": "rule", "strokeWidth": 1}, "encoding": {"y": {"field": "lo", "type": "quantitative", "title": "Ca [mg/L]"}, "y2": {"field": "q1"}, "color": {"field": "geo", "type": "nominal", "scale": {"domain": ["DO","DW","K","L","M"], "range": ["#76EE00","#228B22","#FF4040","#FFB90F","#00BFFF"]}}}},
  {"data": {"name": "boxes"}, "transform": [{"filter": "datum.var == 'Ca'"}], "mark": {"type": "rule", "strokeWidth": 1}, "encoding": {"y": {"field": "q3", "type": "quantitative", "title": "Ca [mg/L]"}, "y2": {"field": "hi"}, "color": {"field": "geo", "type": "nominal", "scale": {"domain": ["DO","DW","K","L","M"], "range": ["#76EE00","#228B22","#FF4040","#FFB90F","#00BFFF"]}}}},
  {"data": {"name": "outliers"}, "transform": [{"filter": "datum.var == 'Ca'"}], "mark": {"type": "circle", "size": 24, "opacity": 1}, "encoding": {"y": {"field": "v", "type": "quantitative", "title": "Ca [mg/L]"}, "fill": {"field": "geo", "type": "nominal", "scale": {"domain": ["DO","DW","K","L","M","_"], "range": ["#76EE00","#228B22","#FF4040","#FFB90F","#00BFFF","#000000"]}, "legend": null}}}
 ]},
{"width": 313, "height": 149,
 "title": {"text": "I", "anchor": "start", "frame": "bounds", "fontSize": 17, "fontWeight": "bold", "offset": -20, "baseline": "top", "color": "#000000"},
 "encoding": {
  "x": {"field": "year", "type": "nominal", "title": null, "scale": {"paddingInner": 0, "paddingOuter": 0.1}, "axis": {"labelAngle": 0, "grid": true, "bandPosition": 0.5, "gridWidth": 1.1}},
  "xOffset": {"field": "geo", "type": "nominal", "scale": {"domain": ["DO","DW","K","L","M"], "paddingInner": 0.1, "paddingOuter": 0.675}}
 },
 "layer": [
  {"data": {"name": "boxes"}, "transform": [{"filter": "datum.var == 'Na'"}], "mark": {"type": "bar", "filled": false, "fill": "white", "strokeWidth": 1.1}, "encoding": {"y": {"field": "q1", "type": "quantitative", "title": "Na [mg/L]", "scale": {"domain": [-560, 11870], "nice": false, "zero": false}, "axis": {"values": [0,1500,3000,4500,6000,7500,9000,10500], "tickCount": 40, "format": ".0f", "labelOverlap": false, "labelFlush": false, "grid": true, "labelOpacity": {"condition": {"test": "datum.value % 3000 != 0", "value": 0}, "value": 1}, "gridWidth": {"condition": {"test": "datum.value % 3000 != 0", "value": 0.55}, "value": 1.1}, "tickOpacity": {"condition": {"test": "datum.value % 3000 != 0", "value": 0}, "value": 1}}}, "y2": {"field": "q3"}, "color": {"field": "geo", "type": "nominal", "scale": {"domain": ["DO","DW","K","L","M"], "range": ["#76EE00","#228B22","#FF4040","#FFB90F","#00BFFF"]}}}},
  {"data": {"name": "boxes"}, "transform": [{"filter": "datum.var == 'Na'"}], "mark": {"type": "bar", "filled": false, "strokeWidth": 2.2}, "encoding": {"y": {"field": "med", "type": "quantitative", "title": "Na [mg/L]"}, "y2": {"field": "med"}, "color": {"field": "geo", "type": "nominal", "scale": {"domain": ["DO","DW","K","L","M"], "range": ["#76EE00","#228B22","#FF4040","#FFB90F","#00BFFF"]}}}},
  {"data": {"name": "boxes"}, "transform": [{"filter": "datum.var == 'Na'"}], "mark": {"type": "rule", "strokeWidth": 1}, "encoding": {"y": {"field": "lo", "type": "quantitative", "title": "Na [mg/L]"}, "y2": {"field": "q1"}, "color": {"field": "geo", "type": "nominal", "scale": {"domain": ["DO","DW","K","L","M"], "range": ["#76EE00","#228B22","#FF4040","#FFB90F","#00BFFF"]}}}},
  {"data": {"name": "boxes"}, "transform": [{"filter": "datum.var == 'Na'"}], "mark": {"type": "rule", "strokeWidth": 1}, "encoding": {"y": {"field": "q3", "type": "quantitative", "title": "Na [mg/L]"}, "y2": {"field": "hi"}, "color": {"field": "geo", "type": "nominal", "scale": {"domain": ["DO","DW","K","L","M"], "range": ["#76EE00","#228B22","#FF4040","#FFB90F","#00BFFF"]}}}},
  {"data": {"name": "outliers"}, "transform": [{"filter": "datum.var == 'Na'"}], "mark": {"type": "circle", "size": 24, "opacity": 1}, "encoding": {"y": {"field": "v", "type": "quantitative", "title": "Na [mg/L]"}, "fill": {"field": "geo", "type": "nominal", "scale": {"domain": ["DO","DW","K","L","M","_"], "range": ["#76EE00","#228B22","#FF4040","#FFB90F","#00BFFF","#000000"]}, "legend": null}}}
 ]}
], "spacing": 72, "bounds": "flush"}
], "spacing": 71, "bounds": "flush"}
],
"columns": 1,
"spacing": 34,
"align": "none",
"config": {
 "font": "Liberation Sans",
 "view": {"stroke": "#333333", "strokeWidth": 1.1},
 "axis": {"domain": false, "gridColor": "#EBEBEB", "tickColor": "#333333", "tickSize": 4, "tickWidth": 1, "labelColor": "#4D4D4D", "labelFontSize": 12, "labelFont": "Liberation Sans", "titleFont": "Liberation Sans", "titleFontSize": 14.5, "titleFontWeight": "normal", "titleColor": "#000000", "labelPadding": 3, "titlePadding": 6}
}
}
